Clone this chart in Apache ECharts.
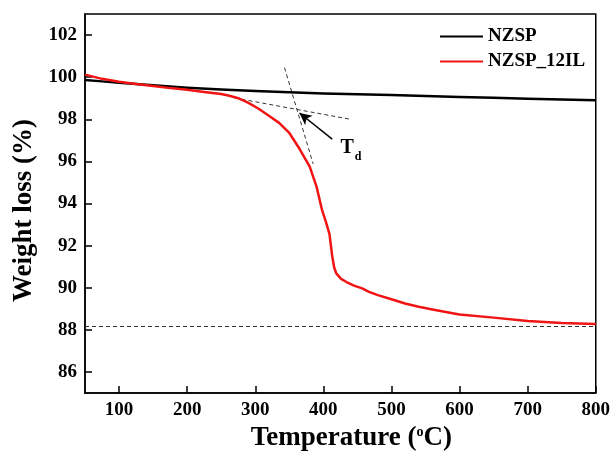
<!DOCTYPE html>
<html>
<head>
<meta charset="utf-8">
<script src="https://cdn.jsdelivr.net/npm/echarts@6/dist/echarts.min.js"></script>
<style>
  html, body { margin: 0; padding: 0; background: #fff; }
  #tga { width: 613px; height: 461px; }
</style>
</head>
<body>
<div id="tga"></div>
<script>
// TGA curves
var nzspTemp = [50, 75, 100, 150, 200, 250, 300, 350, 400, 450, 500, 550, 600, 650, 700, 750, 800];
var nzspWeight = [99.87, 99.8, 99.74, 99.62, 99.5, 99.41, 99.34, 99.28, 99.23, 99.19, 99.15, 99.1, 99.06, 99.02, 98.98, 98.94, 98.9];

var ilTemp = [50, 75, 100, 125, 150, 175, 200, 225, 250, 262, 275, 290, 305, 320, 335, 350, 365, 380, 390, 398, 404, 409, 413, 416, 419, 426, 434, 445, 457, 467, 480, 500, 520, 540, 560, 580, 600, 650, 700, 750, 800];
var ilWeight = [100.12, 99.92, 99.78, 99.68, 99.58, 99.48, 99.4, 99.3, 99.2, 99.12, 99.0, 98.78, 98.5, 98.17, 97.83, 97.35, 96.6, 95.75, 94.8, 93.7, 93.1, 92.55, 91.5, 90.95, 90.68, 90.42, 90.27, 90.1, 89.97, 89.8, 89.65, 89.45, 89.25, 89.1, 88.97, 88.85, 88.73, 88.58, 88.42, 88.33, 88.28];

// tangent construction for Td
var tangentLow = [[270, 99.01], [438, 98.01]];
var tangentSteep = [[343, 100.45], [385, 95.88]];
var residueLevel = 88.15;
var arrowFrom = [413, 97.06];
var arrowTo = [365, 98.3];

var xTicks = [100, 200, 300, 400, 500, 600, 700, 800];
var yTicks = [86, 88, 90, 92, 94, 96, 98, 100, 102];

function pairs(xs, ys) {
  var out = [];
  for (var i = 0; i < xs.length; i++) out.push([xs[i], ys[i]]);
  return out;
}

var serif = 'Liberation Serif';
var dashStyle = { color: '#333', width: 1, type: [4, 3] };

var option = {
  animation: false,
  grid: {
    left: 85, right: 15, top: 14, bottom: 68,
    show: true, borderColor: '#000', borderWidth: 1.5
  },
  legend: {
    data: ['NZSP', 'NZSP_12IL'],
    orient: 'vertical',
    left: 440, top: 27, padding: 0,
    itemWidth: 43, itemHeight: 2, itemGap: 6,
    icon: 'rect',
    textStyle: { fontFamily: serif, fontWeight: 'bold', fontSize: 19, color: '#000' }
  },
  xAxis: {
    type: 'value', min: 50, max: 800,
    name: '{a|Temperature (}{s|o}{a|C)}',
    nameLocation: 'middle', nameGap: 27,
    nameTextStyle: {
      padding: [0, 0, 0, 22],
      rich: {
        a: { fontFamily: serif, fontWeight: 'bold', fontSize: 27, color: '#000' },
        s: { fontFamily: serif, fontWeight: 'bold', fontSize: 14, color: '#000', verticalAlign: 'top', padding: [0, 0, 12, 0] }
      }
    },
    axisLine: { lineStyle: { color: '#000', width: 1.5 } },
    axisTick: { inside: true, length: 7, customValues: xTicks, lineStyle: { width: 1.5 } },
    axisLabel: { customValues: xTicks, margin: 8, fontFamily: serif, fontWeight: 'bold', fontSize: 19, color: '#000' },
    splitLine: { show: false }
  },
  yAxis: {
    type: 'value', min: 85, max: 103,
    name: 'Weight loss (%)',
    nameLocation: 'middle', nameGap: 42,
    nameTextStyle: { fontFamily: serif, fontWeight: 'bold', fontSize: 27, color: '#000', padding: [0, 14, 0, 0] },
    axisLine: { lineStyle: { color: '#000', width: 1.5 } },
    axisTick: { inside: true, length: 7, customValues: yTicks, lineStyle: { width: 1.5 } },
    axisLabel: { customValues: yTicks, margin: 8, fontFamily: serif, fontWeight: 'bold', fontSize: 19, color: '#000' },
    splitLine: { show: false }
  },
  series: [
    {
      name: 'tangentLow', type: 'line', data: tangentLow,
      showSymbol: false, silent: true, lineStyle: dashStyle, z: 1,
      markLine: {
        silent: true, symbol: ['none', 'none'], label: { show: false },
        lineStyle: dashStyle,
        data: [{ yAxis: residueLevel }]
      }
    },
    {
      name: 'tangentSteep', type: 'line', data: tangentSteep,
      showSymbol: false, silent: true, lineStyle: dashStyle, z: 1
    },
    {
      name: 'NZSP', type: 'line', data: pairs(nzspTemp, nzspWeight),
      showSymbol: false, smooth: false, color: '#000',
      lineStyle: { color: '#000', width: 2.5, join: 'round' }, z: 3
    },
    {
      name: 'NZSP_12IL', type: 'line', data: pairs(ilTemp, ilWeight),
      showSymbol: false, smooth: false, color: '#f01414',
      lineStyle: { color: '#f01414', width: 2.5, join: 'round' }, z: 4,
      markLine: {
        silent: true, symbol: ['none', 'arrow'], symbolSize: [9, 12],
        label: { show: false },
        lineStyle: { color: '#000', width: 1.5, type: 'solid' },
        data: [[{ coord: arrowFrom }, { coord: arrowTo }]]
      },
      markPoint: {
        silent: true, symbol: 'circle', symbolSize: 0,
        label: { show: true, color: '#000', fontFamily: serif, fontWeight: 'bold', position: 'inside' },
        data: [
          { coord: [435, 96.63], label: { formatter: 'T', fontSize: 20 } },
          { coord: [451, 96.2], label: { formatter: 'd', fontSize: 12 } }
        ]
      }
    }
  ]
};

var chart = echarts.init(document.getElementById('tga'));
chart.setOption(option);
</script>
</body>
</html>
